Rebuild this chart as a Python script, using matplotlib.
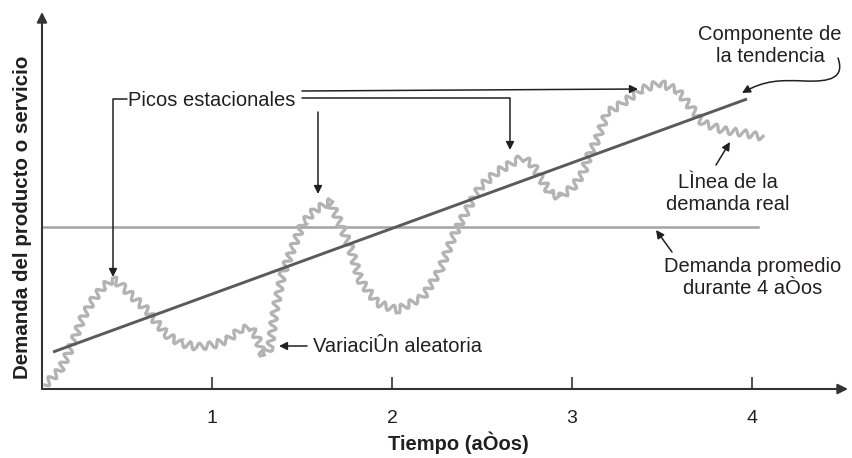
import matplotlib
matplotlib.use('Agg')
import matplotlib.pyplot as plt
from matplotlib.path import Path
from matplotlib.patches import FancyArrowPatch

plt.rcParams['font.family'] = ['Liberation Sans', 'DejaVu Sans']

# ---------------- data (years, demand units) ----------------
years = [0.072, 0.156, 0.211, 0.283, 0.339, 0.394, 0.450, 0.506, 0.561, 0.639,
         0.694, 0.750, 0.822, 0.917, 1.006, 1.083, 1.156, 1.211, 1.250, 1.283,
         1.322, 1.350, 1.394, 1.450, 1.506, 1.572, 1.656, 1.711, 1.767, 1.822,
         1.917, 2.028, 2.172, 2.267, 2.339, 2.417, 2.489, 2.583, 2.694, 2.728,
         2.783, 2.822, 2.878, 2.933, 3.006, 3.061, 3.100, 3.139, 3.194, 3.283,
         3.378, 3.489, 3.583, 3.672, 3.728, 3.839, 3.950, 4.061]
demand = [0.4, 1.9, 3.9, 7.2, 8.9, 10.2, 11.0, 10.2, 9.2, 7.9,
          6.6, 5.4, 4.6, 4.2, 4.4, 4.9, 5.9, 6.2, 5.2, 3.4,
          4.1, 7.9, 11.6, 14.2, 16.6, 17.9, 18.7, 16.6, 14.2, 10.9,
          8.6, 7.9, 9.2, 11.9, 15.2, 17.9, 20.2, 21.7, 22.9, 23.1,
          22.4, 21.2, 19.6, 19.2, 20.2, 21.6, 23.6, 24.9, 27.6, 28.6,
          29.9, 30.6, 29.9, 27.9, 26.6, 25.9, 25.6, 25.2]
trend_years = [0.117, 3.972]
trend_values = [3.7, 29.0]
average_years = [0.056, 4.033]
average_value = 16.2
tick_years = [1, 2, 3, 4]
tick_labels = ['1', '2', '3', '4']

# ---------------- layout helpers ----------------
W, H = 852, 458
L, R, T, B = 42, 848, 12, 389          # axes box in pixels
X0, PXU, YS = 32, 180.0, 10.0          # pixel of year 0, px/year, px/demand unit

TXT = '#231f20'
FS = 14.5

fig = plt.figure(figsize=(W / 100, H / 100), dpi=100)
ax = fig.add_axes([L / W, 1 - B / H, (R - L) / W, (B - T) / H])
ax.set_xlim((L - X0) / PXU, (R - X0) / PXU)
ax.set_ylim(0, (B - T) / YS)


def d(px, py):
    return ((px - X0) / PXU, (B - py) / YS)


for s in ax.spines.values():
    s.set_visible(False)

# axes with arrowheads
axis_arrow = dict(arrowstyle='-|>', color='#333333', lw=1.5, mutation_scale=15,
                  shrinkA=0, shrinkB=0)
ax.annotate('', xy=(1, 0), xytext=(0, 0), xycoords='axes fraction',
            arrowprops=axis_arrow, annotation_clip=False)
ax.annotate('', xy=(0, 1), xytext=(0, 0), xycoords='axes fraction',
            arrowprops=axis_arrow, annotation_clip=False)

ax.set_xticks(tick_years, tick_labels)
ax.set_yticks([])
ax.tick_params(axis='x', direction='in', length=9, width=1.2, pad=15,
               labelsize=14, colors='#333333', labelcolor=TXT)

# ---------------- series ----------------
ax.plot(average_years, [average_value] * len(average_years),
        color='#a3a3a3', lw=1.8, zorder=2)
dl, = ax.plot(years, demand, color='#b3b3b3', lw=2.3, zorder=3,
              solid_joinstyle='miter')
dl.set_sketch_params(scale=3.5, length=10.0, randomness=1.2)
ax.plot(trend_years, trend_values, color='#5a5a5a', lw=2.1, zorder=4,
        solid_capstyle='butt')

# ---------------- labels ----------------
fig.text(458 / W, 1 - 443 / H, 'Tiempo (aÒos)', ha='center', va='center',
         fontsize=14.5, fontweight='bold', color=TXT)
fig.text(23 / W, 1 - 217 / H, 'Demanda del producto o servicio', rotation=90,
         ha='center', va='center', fontsize=14.8, fontweight='bold', color=TXT)

# ---------------- annotations ----------------
ap = dict(arrowstyle='-|>', color=TXT, lw=1.1, mutation_scale=12,
          shrinkA=0, shrinkB=0)
ap_angle = dict(ap, connectionstyle='angle,angleA=0,angleB=90,rad=0')

ax.text(*d(128, 100), 'Picos estacionales', ha='left', va='center',
        fontsize=FS, color=TXT)
ax.annotate('', xy=d(113, 277), xytext=d(127, 99), arrowprops=ap_angle,
            annotation_clip=False)
ax.annotate('', xy=d(318, 194), xytext=d(318, 112), arrowprops=ap,
            annotation_clip=False)
ax.annotate('', xy=d(510, 150), xytext=d(302, 98), arrowprops=ap_angle,
            annotation_clip=False)
ax.annotate('', xy=d(638, 89), xytext=d(302, 91), arrowprops=ap,
            annotation_clip=False)

ax.text(*d(770, 45), 'Componente de\nla tendencia', ha='center', va='center',
        multialignment='center', fontsize=FS, color=TXT)
curve = Path([d(838, 58), d(845, 78), d(830, 82), d(805, 81),
              d(780, 80), d(765, 80), d(742, 93)],
             [Path.MOVETO, Path.CURVE4, Path.CURVE4, Path.CURVE4,
              Path.CURVE4, Path.CURVE4, Path.CURVE4])
ax.add_patch(FancyArrowPatch(path=curve, arrowstyle='-|>', color=TXT, lw=1.1,
                             mutation_scale=12, transform=ax.transData,
                             clip_on=False))

ax.text(*d(728, 193), 'LÌnea de la\ndemanda real', ha='center', va='center',
        multialignment='center', fontsize=FS, color=TXT)
ax.annotate('', xy=d(730, 142), xytext=d(716, 165), arrowprops=ap,
            annotation_clip=False)

ax.text(*d(753, 277), 'Demanda promedio\ndurante 4 aÒos', ha='center',
        va='center', multialignment='center', fontsize=FS, color=TXT)
ax.annotate('', xy=d(656, 230), xytext=d(672, 252), arrowprops=ap,
            annotation_clip=False)

ax.text(*d(313, 346), 'VariaciÛn aleatoria', ha='left', va='center',
        fontsize=FS, color=TXT)
ax.annotate('', xy=d(279, 346), xytext=d(307, 346), arrowprops=ap,
            annotation_clip=False)

fig.savefig('out.png', dpi=100)
